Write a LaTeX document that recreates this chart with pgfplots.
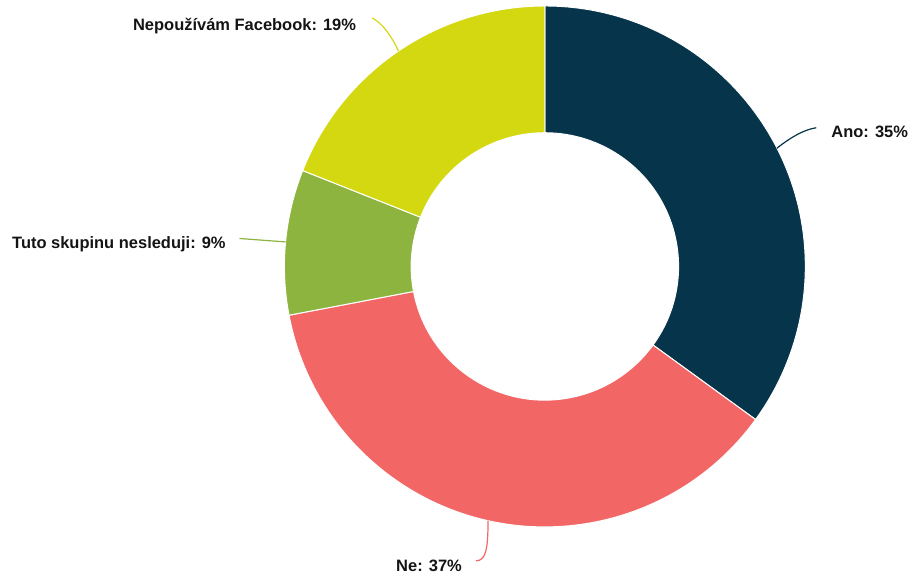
\documentclass[border=0pt]{standalone}
\usepackage{pgfplots}
\pgfplotsset{compat=1.18}
\usepackage{pgfplotstable}
\usepackage{fontspec}
\setmainfont{Liberation Sans}
\usetikzlibrary{calc}
\definecolor{cAno}{RGB}{6,52,74}
\definecolor{cNe}{RGB}{242,102,102}
\definecolor{cTuto}{RGB}{141,180,62}
\definecolor{cNep}{RGB}{212,216,16}

\pgfplotstableread[col sep=comma]{
label,value
Ano,35
Ne,37
Tuto skupinu nesleduji,9
Nepoužívám Facebook,19
}\piedata

% cumulative angles, clockwise from the top
\pgfplotstablegetelem{0}{value}\of\piedata \let\vA\pgfplotsretval
\pgfplotstablegetelem{1}{value}\of\piedata \let\vB\pgfplotsretval
\pgfplotstablegetelem{2}{value}\of\piedata \let\vC\pgfplotsretval
\pgfplotstablegetelem{3}{value}\of\piedata \let\vD\pgfplotsretval
\pgfmathsetmacro\aA{90}
\pgfmathsetmacro\aB{\aA-3.6*\vA}
\pgfmathsetmacro\aC{\aB-3.6*\vB}
\pgfmathsetmacro\aD{\aC-3.6*\vC}
\pgfmathsetmacro\aE{\aD-3.6*\vD}
\pgfmathsetmacro\mA{(\aA+\aB)/2}
\pgfmathsetmacro\mB{(\aB+\aC)/2}
\pgfmathsetmacro\mC{(\aC+\aD)/2}
\pgfmathsetmacro\mD{(\aD+\aE)/2}
\def\Ro{261}
\def\Ri{134}

\newcommand{\donutslice}[3]{%
  \fill[#3, draw=white, line width=1pt]
    ($(axis cs:546,308)+(#1:\Ro)$) arc[start angle=#1, end angle=#2, radius=\Ro]
    -- ($(axis cs:546,308)+(#2:\Ri)$) arc[start angle=#2, end angle=#1, radius=\Ri]
    -- cycle;}

\begin{document}
\begin{tikzpicture}[font=\fontsize{16.5pt}{18pt}\selectfont\bfseries]
\begin{axis}[
    width=908pt, height=575pt,
    scale only axis,
    xmin=0, xmax=908, ymin=0, ymax=575,
    axis lines=none,
    clip=false,
]
% keep the page exactly as large as the axis
\path (rel axis cs:0,0) rectangle (rel axis cs:1,1);

\donutslice{\aA}{\aB}{cAno}
\donutslice{\aB}{\aC}{cNe}
\donutslice{\aC}{\aD}{cTuto}
\donutslice{\aD}{\aE}{cNep}

% leader lines
\draw[cAno, line width=1.2pt] ($(axis cs:546,308)+(\mA:\Ro)$) .. controls (axis cs:792,437) and (axis cs:805,445) .. (axis cs:818,447);
\draw[cNe, line width=1.2pt] ($(axis cs:546,308)+(\mB:\Ro)$) .. controls (axis cs:489,25) and (axis cs:487,13) .. (axis cs:477,13);
\draw[cTuto, line width=1.2pt] ($(axis cs:546,308)+(\mC:\Ro)$) -- (axis cs:240,336);
\draw[cNep, line width=1.2pt] ($(axis cs:546,308)+(\mD:\Ro)$) .. controls (axis cs:393,538) and (axis cs:383,552) .. (axis cs:373,557);

\node[anchor=base west, inner sep=0pt, text=black!92] at (axis cs:833,437) {Ano: 35\%};
\node[anchor=base east, inner sep=0pt, text=black!92] at (axis cs:463,2) {Ne: 37\%};
\node[anchor=base west, inner sep=0pt, text=black!92] at (axis cs:12,326) {Tuto skupinu nesleduji: 9\%};
\node[anchor=base east, inner sep=0pt, text=black!92] at (axis cs:357,544) {Nepoužívám Facebook: 19\%};
\end{axis}
\end{tikzpicture}
\end{document}
